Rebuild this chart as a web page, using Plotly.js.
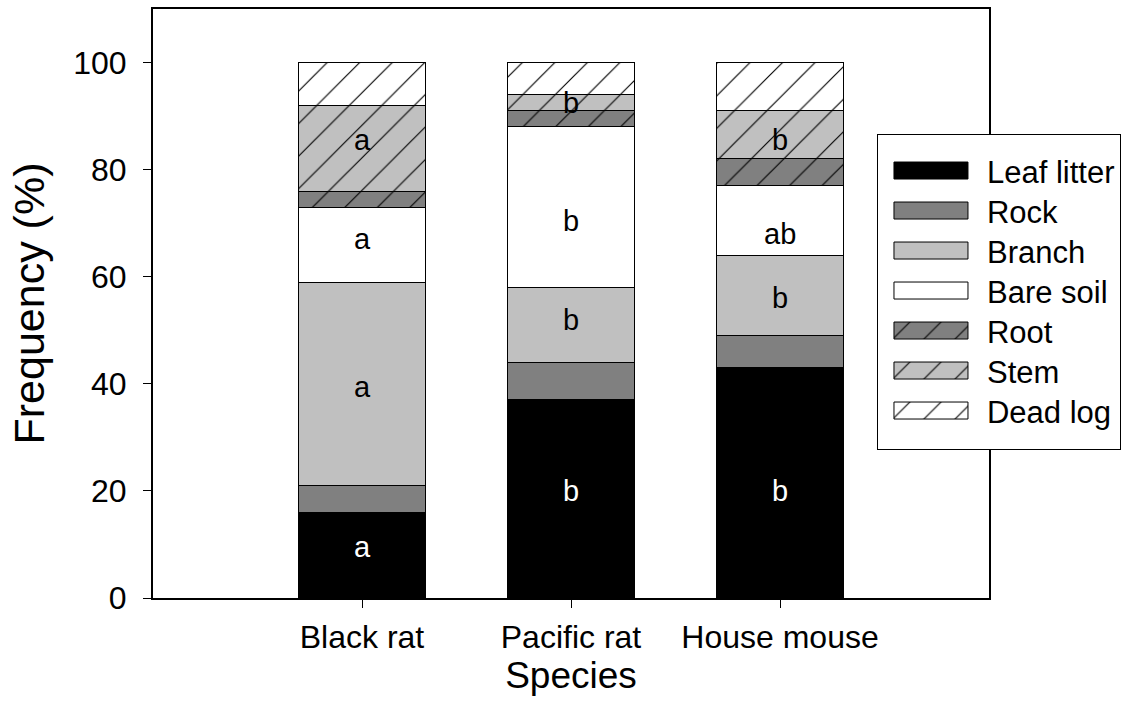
<!DOCTYPE html>
<html>
<head>
<meta charset="utf-8">
<script src="https://cdn.plot.ly/plotly-3.0.1.min.js"></script>
<style>html,body{margin:0;padding:0;background:#fff;}#chart{width:1141px;height:725px;}</style>
</head>
<body>
<div id="chart"></div>
<script>
const species = ['Black rat', 'Pacific rat', 'House mouse'];
const leafLitter = [16, 37, 43];
const rock = [5, 7, 6];
const branch = [38, 14, 15];
const bareSoil = [14, 30, 13];
const root = [3, 3, 5];
const stem = [16, 3, 9];
const deadLog = [8, 6, 9];

// significance letters and the heights (in %) at which they are printed
const lettersLeaf = ['a', 'b', 'b'];
const lettersBranch = ['a', 'b', 'b'];
const lettersBare = ['a', 'b', 'ab'];
const lettersStem = ['a', 'b', 'b'];
const letterYLeaf = [9.5, 20, 20];
const letterYBranch = [39.5, 52, 56];
const letterYBare = [67, 70.5, 68];
const letterYStem = [85.5, 92.5, 85.5];

const layers = [
  {name: 'Leaf litter', y: leafLitter, color: '#000000', hatch: false, letters: lettersLeaf, ly: letterYLeaf, lc: '#ffffff'},
  {name: 'Rock', y: rock, color: '#808080', hatch: false, letters: null},
  {name: 'Branch', y: branch, color: '#c0c0c0', hatch: false, letters: lettersBranch, ly: letterYBranch, lc: '#000000'},
  {name: 'Bare soil', y: bareSoil, color: '#ffffff', hatch: false, letters: lettersBare, ly: letterYBare, lc: '#000000'},
  {name: 'Root', y: root, color: '#808080', hatch: true, letters: null},
  {name: 'Stem', y: stem, color: '#c0c0c0', hatch: true, letters: lettersStem, ly: letterYStem, lc: '#000000'},
  {name: 'Dead log', y: deadLog, color: '#ffffff', hatch: true, letters: null}
];

const FONT = 'Liberation Sans, Arial, sans-serif';
const traces = [];
const annotations = [];
layers.forEach((L, i) => {
  const marker = {color: L.color, line: {color: '#000000', width: 1}};
  if (L.hatch) {
    marker.pattern = {shape: '/', fgcolor: '#000000', bgcolor: L.color, fillmode: 'replace', size: 23, solidity: 0.05};
  }
  traces.push({
    type: 'bar', x: species, y: L.y, name: L.name, marker: marker,
    width: 0.61, hoverinfo: 'skip'
  });
  if (L.letters) {
    species.forEach((s, j) => {
      annotations.push({
        x: s, y: L.ly[j], xref: 'x', yref: 'y', text: L.letters[j],
        showarrow: false, font: {family: FONT, size: 29, color: L.lc}
      });
    });
  }
});

const layout = {
  width: 1141, height: 725,
  margin: {l: 153, r: 152, t: 9, b: 127, autoexpand: false},
  paper_bgcolor: '#ffffff', plot_bgcolor: '#ffffff',
  barmode: 'stack',
  font: {family: FONT, size: 32, color: '#000000'},
  showlegend: true,
  legend: {
    x: 0.866, y: 0.788, xanchor: 'left', yanchor: 'top',
    traceorder: 'normal',
    bordercolor: '#000000', borderwidth: 1, bgcolor: '#ffffff',
    font: {family: FONT, size: 31, color: '#000000'},
    itemwidth: 99
  },
  xaxis: {
    type: 'category', range: [-1, 3],
    showline: true, linecolor: '#000000', linewidth: 2, mirror: true,
    ticks: 'outside', ticklen: 8, tickwidth: 1, tickcolor: '#000000',
    ticklabelstandoff: 2,
    showgrid: false, zeroline: false,
    tickfont: {family: FONT, size: 32},
    title: {text: 'Species', font: {family: FONT, size: 37}, standoff: 0}
  },
  yaxis: {
    range: [0, 110], tickvals: [0, 20, 40, 60, 80, 100],
    showline: true, linecolor: '#000000', linewidth: 2, mirror: true,
    ticks: 'outside', ticklen: 8, tickwidth: 1, tickcolor: '#000000',
    ticklabelstandoff: 10,
    showgrid: false, zeroline: false,
    tickfont: {family: FONT, size: 32},
    title: {text: 'Frequency (%)', font: {family: FONT, size: 43}, standoff: 15}
  },
  annotations: annotations
};

Plotly.newPlot('chart', traces, layout, {displayModeBar: false, staticPlot: true}).then(function () {
  const items = document.querySelectorAll('.legend .traces');
  let t0 = null;
  items.forEach(function (g, i) {
    const path = g.querySelector('.legendpoints path');
    const text = g.querySelector('text.legendtext');
    if (path && text) {
      // wide rectangular swatch
      const pr = path.getBoundingClientRect();
      const tr = text.getBoundingClientRect();
      const bb = path.getBBox();
      const lcx = bb.x + bb.width / 2, lcy = bb.y + bb.height / 2;
      const scx = pr.left + pr.width / 2;
      const right = tr.left - 19, left = right - 74;
      const x1 = lcx + (left - scx), x2 = lcx + (right - scx);
      const y1 = lcy - 8.5, y2 = lcy + 8.5;
      path.setAttribute('d', 'M' + x2 + ',' + y2 + 'H' + x1 + 'V' + y1 + 'H' + x2 + 'Z');
      // coarser hatch in the swatch
      const fill = (path.getAttribute('style') || '') + ' ' + (path.style.fill || '');
      const m = fill.match(/url\(["']?#([^"')]+)/);
      if (m) {
        const pat = document.getElementById(m[1]);
        if (pat) pat.setAttribute('patternTransform', 'scale(2.2)');
      }
    }
    // even vertical spacing of 40px
    const tf = g.getAttribute('transform') || '';
    const mm = tf.match(/translate\(\s*([-\d.]+)[ ,]+([-\d.]+)\s*\)/);
    if (mm) {
      const x = parseFloat(mm[1]), y = parseFloat(mm[2]);
      if (t0 === null) t0 = y;
      g.setAttribute('transform', 'translate(' + x + ',' + (t0 + 9 + 40 * i) + ')');
    }
  });
});
</script>
</body>
</html>
